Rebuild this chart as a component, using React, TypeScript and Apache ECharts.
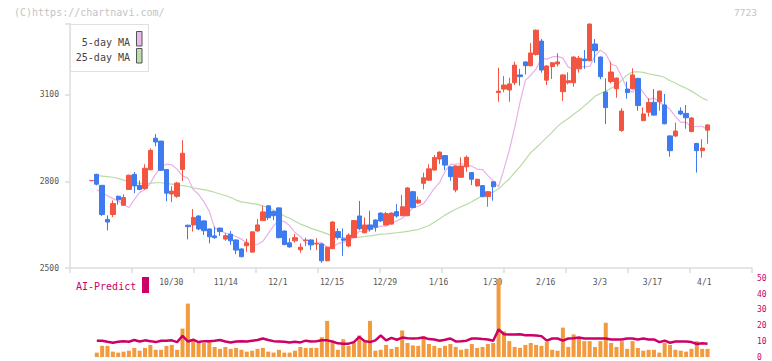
import React, { useEffect, useRef } from "react";
import * as echarts from "echarts";

// ---- Price data (one entry per trading day, index 0..115) ----
const opens = [
  2802, 2824, 2786, 2668, 2685, 2748, 2717, 2772, 2824, 2786,
  2775, 2840, 2949, 2939, 2841, 2756, 2748, 2841, 2648, 2649,
  2680, 2663, 2635, 2611, 2638, 2600, 2617, 2597, 2566, 2577,
  2555, 2628, 2664, 2715, 2696, 2708, 2628, 2587, 2594, 2563,
  2595, 2597, 2583, 2583, 2525, 2567, 2626, 2601, 2576, 2605,
  2680, 2622, 2649, 2666, 2690, 2649, 2652, 2695, 2681, 2681,
  2764, 2725, 2793, 2804, 2839, 2877, 2889, 2850, 2770, 2814,
  2850, 2830, 2784, 2785, 2747, 2798, 3107, 3119, 3116, 3141,
  3168, 3213, 3200, 3239, 3285, 3150, 3197, 3206, 3110, 3141,
  3141, 3189, 3223, 3217, 3275, 3230, 3109, 3145, 3120, 2976,
  3119, 3120, 3156, 3010, 3039, 3073, 3075, 3064, 2957, 2957,
  3043, 3035, 2972, 2931, 2906, 2977,
];
const closes = [
  2803, 2790, 2685, 2659, 2723, 2736, 2744, 2821, 2784, 2772,
  2845, 2907, 2936, 2838, 2759, 2766, 2794, 2897, 2643, 2675,
  2635, 2629, 2608, 2605, 2626, 2612, 2594, 2562, 2539, 2587,
  2625, 2649, 2694, 2674, 2681, 2605, 2581, 2573, 2605, 2572,
  2597, 2580, 2585, 2525, 2572, 2659, 2606, 2596, 2614, 2664,
  2636, 2649, 2634, 2641, 2663, 2688, 2690, 2680, 2712, 2777,
  2709, 2735, 2812, 2843, 2882, 2901, 2856, 2816, 2853, 2853,
  2883, 2807, 2807, 2747, 2764, 2781, 3112, 3133, 3137, 3202,
  3162, 3200, 3244, 3323, 3185, 3199, 3210, 3213, 3168, 3148,
  3230, 3226, 3217, 3344, 3252, 3162, 3055, 3178, 3157, 3043,
  3107, 3168, 3062, 3033, 3073, 3029, 3112, 2999, 2906, 2974,
  3033, 3020, 3019, 2906, 2915, 2995,
];
const lows = [
  2802, 2786, 2680, 2630, 2676, 2719, 2717, 2771, 2759, 2769,
  2771, 2838, 2921, 2836, 2731, 2728, 2743, 2801, 2599, 2626,
  2631, 2614, 2585, 2601, 2611, 2594, 2580, 2548, 2537, 2556,
  2553, 2626, 2664, 2666, 2666, 2603, 2579, 2570, 2588, 2553,
  2576, 2562, 2562, 2518, 2523, 2565, 2599, 2542, 2572, 2603,
  2631, 2620, 2626, 2626, 2659, 2647, 2650, 2674, 2679, 2679,
  2707, 2721, 2772, 2802, 2837, 2860, 2839, 2802, 2762, 2812,
  2833, 2787, 2782, 2745, 2712, 2733, 3075, 3108, 3075, 3133,
  3131, 3170, 3198, 3235, 3176, 3133, 3154, 3197, 3078, 3136,
  3127, 3176, 3189, 3215, 3210, 3153, 2998, 3139, 3089, 2971,
  3086, 3118, 3044, 3008, 3024, 3027, 3044, 2997, 2885, 2953,
  3029, 2982, 2970, 2830, 2882, 2930,
];
const highs = [
  2803, 2826, 2787, 2682, 2734, 2751, 2755, 2823, 2832, 2803,
  2859, 2914, 2963, 2940, 2842, 2783, 2798, 2942, 2650, 2704,
  2682, 2665, 2637, 2643, 2640, 2620, 2628, 2599, 2568, 2601,
  2627, 2670, 2715, 2717, 2698, 2710, 2630, 2603, 2618, 2585,
  2605, 2599, 2603, 2585, 2574, 2662, 2637, 2637, 2620, 2666,
  2732, 2675, 2698, 2668, 2692, 2694, 2692, 2721, 2753, 2780,
  2767, 2747, 2830, 2859, 2891, 2903, 2891, 2852, 2855, 2883,
  2889, 2832, 2809, 2787, 2766, 2800, 3193, 3164, 3158, 3214,
  3189, 3215, 3278, 3325, 3292, 3201, 3212, 3243, 3170, 3177,
  3232, 3234, 3254, 3346, 3292, 3232, 3156, 3214, 3159, 3053,
  3145, 3191, 3158, 3056, 3087, 3119, 3114, 3102, 2959, 3003,
  3056, 3064, 3022, 2933, 2946, 2997,
];

// 5-day MA values at the first four positions (before five closes exist)
const ma5Head = [2771, 2760, 2750, 2740];

// 25-day MA (position 0 has none)
const ma25 = [
  null, 2820, 2818, 2816, 2814, 2810, 2804, 2799, 2796, 2793,
  2793, 2793, 2795, 2795, 2792, 2790, 2788, 2785, 2782, 2777,
  2774, 2771, 2767, 2762, 2756, 2751, 2744, 2735, 2729, 2726,
  2723, 2720, 2715, 2710, 2700, 2692, 2680, 2672, 2662, 2652,
  2645, 2637, 2631, 2625, 2618, 2611, 2607, 2605, 2605, 2606,
  2607, 2609, 2611, 2614, 2617, 2618, 2620, 2622, 2624, 2627,
  2630, 2633, 2640, 2647, 2658, 2670, 2683, 2694, 2703, 2712,
  2720, 2729, 2740, 2750, 2757, 2763, 2774, 2792, 2808, 2830,
  2851, 2875, 2899, 2916, 2934, 2952, 2970, 2990, 3005, 3017,
  3032, 3045, 3061, 3077, 3094, 3104, 3112, 3122, 3131, 3150,
  3168, 3178, 3179, 3177, 3172, 3168, 3165, 3159, 3148, 3140,
  3130, 3122, 3112, 3100, 3088, 3080,
];

// Lower panel: volume bars and AI-Predict line (position 0 has none)
const volumes = [
  null, 2.8, 7.1, 7.1, 3.4, 2.8, 3.4, 4.0, 5.8, 4.0,
  5.8, 7.7, 4.6, 4.6, 7.1, 7.7, 4.6, 18.1, 34, 11.3,
  8.9, 8.9, 9.5, 6.4, 5.2, 6.4, 5.2, 5.8, 4.6, 3.4,
  4.0, 5.2, 5.8, 3.4, 2.8, 4.6, 2.8, 2.8, 4.0, 6.4,
  5.8, 5.8, 5.8, 12.6, 23, 9.5, 4.6, 11.3, 7.1, 8.9,
  13.8, 10.7, 23, 4.0, 4.6, 7.7, 5.2, 6.4, 16.9, 8.9,
  7.4, 7.1, 13.2, 8.3, 7.1, 5.8, 7.1, 8.3, 6.4, 4.6,
  5.2, 8.3, 5.8, 6.4, 8.3, 8.9, 55, 16.3, 10.1, 6.4,
  5.8, 7.7, 8.9, 7.7, 7.1, 9.5, 4.6, 4.0, 18.7, 6.4,
  14.4, 12.0, 10.1, 10.1, 6.4, 10.1, 21.8, 8.9, 6.4, 10.1,
  5.2, 10.1, 5.8, 4.0, 4.6, 4.6, 2.8, 8.9, 7.7, 4.6,
  4.0, 3.4, 5.2, 10.1, 5.2, 5.2,
];
const aiPredict = [
  null, 10.4, 10.4, 9.7, 9.1, 9.7, 10.1, 9.7, 10.8, 9.9,
  10.6, 10.1, 9.5, 10.4, 10.4, 10.6, 9.5, 13.5, 9.9, 11.0,
  9.5, 10.1, 10.1, 10.4, 10.8, 9.9, 9.3, 9.9, 10.1, 9.9,
  10.4, 10.8, 11.8, 10.8, 10.1, 9.9, 9.7, 9.3, 9.7, 9.3,
  10.4, 9.9, 10.1, 10.6, 10.6, 9.9, 8.7, 8.5, 8.5, 9.5,
  12.8, 10.1, 9.5, 10.6, 13.7, 10.6, 12.2, 11.0, 12.4, 12.0,
  11.8, 12.0, 12.4, 11.4, 11.2, 10.4, 11.0, 11.8, 9.9, 10.1,
  10.4, 11.8, 11.8, 11.4, 11.2, 10.4, 17.6, 14.5, 14.3, 14.3,
  14.5, 13.9, 13.9, 13.7, 13.3, 10.4, 11.8, 11.8, 10.4, 11.8,
  12.0, 12.4, 11.8, 11.8, 11.8, 11.8, 11.8, 11.2, 11.2, 11.2,
  11.8, 11.8, 11.2, 11.8, 11.2, 11.2, 9.5, 10.4, 9.1, 9.9,
  9.9, 9.9, 9.5, 8.3, 8.7, 8.5,
];

// Date labels and the slot positions where they are printed
const labelDates = ["10/30", "11/14", "12/1", "12/15", "12/29", "1/16", "1/30", "2/16", "3/3", "3/17", "4/1"];
const labelSlots = [14.9, 25.1, 34.8, 44.9, 54.8, 64.8, 74.9, 84.8, 94.9, 104.7, 114.4];

const priceTicks = [2500, 2800, 3100];
const volTicks = [0, 10, 20, 30, 40, 50];

const MONO = "'DejaVu Sans Mono', monospace";
const RED = "#F25541";
const BLUE = "#3D7BEE";
const PINK = "#E8B1E8";
const GREEN = "#B7DCA6";
const ORANGE = "#F19A3E";
const MAGENTA = "#CC0066";
const AXIS = "#DDDDDD";

const X_MIN = -4;
const X_MAX = 123.3;

export default function App() {
  const ref = useRef<HTMLDivElement>(null);

  useEffect(() => {
    document.body.style.margin = "0";
    if (!ref.current) return;
    const chart = echarts.init(ref.current, undefined, { renderer: "svg" });

    const candleData = opens.map((o, i) => [i, o, closes[i], lows[i], highs[i]]);
    const ma5Data: number[][] = [];
    for (let p = 1; p < closes.length; p++) {
      let v: number;
      if (p < 5) v = ma5Head[p - 1];
      else {
        let s = 0;
        for (let k = p - 5; k < p; k++) s += closes[k];
        v = s / 5;
      }
      ma5Data.push([p, v]);
    }
    const ma25Data = ma25.map((v, i) => [i, v]).filter((d) => d[1] !== null);
    const volData = volumes.map((v, i) => [i, v]).filter((d) => d[1] !== null);
    const aiData = aiPredict.map((v, i) => [i, v]).filter((d) => d[1] !== null);

    const priceMin = priceTicks[0];
    const priceMax = Math.max(...highs);
    const priceStep = priceTicks[1] - priceTicks[0];

    chart.setOption({
      animation: false,
      backgroundColor: "#ffffff",
      grid: [
        { left: 70, width: 682, top: 268 - (priceMax - priceMin) / 3.46, bottom: 361 - 268 },
        { left: 70, width: 682, top: 278.5, height: 80.5 },
      ],
      xAxis: [
        { type: "value", gridIndex: 0, min: X_MIN, max: X_MAX, show: false, axisLine: { onZero: false } },
        {
          type: "value",
          gridIndex: 0,
          min: 0,
          max: 11,
          interval: 1,
          position: "bottom",
          axisLine: { show: true, onZero: false, lineStyle: { color: AXIS, width: 1.5 } },
          axisTick: { show: true, length: 5, lineStyle: { color: AXIS, width: 1.5 } },
          axisLabel: { show: false },
          splitLine: { show: false },
        },
        {
          type: "value",
          gridIndex: 0,
          min: X_MIN,
          max: X_MAX,
          position: "bottom",
          axisLine: { show: false, onZero: false },
          axisTick: { show: false },
          splitLine: { show: false },
          axisLabel: {
            show: true,
            customValues: labelSlots,
            margin: 10,
            color: "#555555",
            fontFamily: MONO,
            fontSize: 8,
            formatter: (v: number) => {
              const k = labelSlots.findIndex((s) => Math.abs(s - v) < 1e-6);
              return k >= 0 ? labelDates[k] : "";
            },
          },
        },
        { type: "value", gridIndex: 1, min: X_MIN, max: X_MAX, show: false, axisLine: { onZero: false } },
      ],
      yAxis: [
        {
          type: "value",
          gridIndex: 0,
          min: priceMin,
          max: priceMax,
          interval: priceStep,
          axisLine: { show: true, onZero: false, lineStyle: { color: AXIS, width: 1.5 } },
          axisTick: { show: true, length: 5, lineStyle: { color: AXIS, width: 1.5 } },
          splitLine: { show: false },
          axisLabel: {
            margin: 11,
            color: "#555555",
            fontFamily: MONO,
            fontSize: 8,
            formatter: (v: number) => (priceTicks.indexOf(v) >= 0 ? String(v) : ""),
          },
        },
        {
          type: "value",
          gridIndex: 1,
          position: "right",
          min: volTicks[0],
          max: volTicks[volTicks.length - 1],
          interval: volTicks[1] - volTicks[0],
          axisLine: { show: false, onZero: false },
          axisTick: { show: false },
          splitLine: { show: false },
          axisLabel: { margin: 5, color: MAGENTA, fontFamily: MONO, fontSize: 8 },
        },
      ],
      series: [
        {
          type: "line",
          name: "5-day MA",
          xAxisIndex: 0,
          yAxisIndex: 0,
          data: ma5Data,
          showSymbol: false,
          symbol: "none",
          lineStyle: { color: PINK, width: 1.2 },
          z: 1,
        },
        {
          type: "line",
          name: "25-day MA",
          xAxisIndex: 0,
          yAxisIndex: 0,
          data: ma25Data,
          showSymbol: false,
          symbol: "none",
          lineStyle: { color: GREEN, width: 1.2 },
          z: 1,
        },
        {
          type: "candlestick",
          xAxisIndex: 0,
          yAxisIndex: 0,
          data: candleData,
          encode: { x: 0, y: [1, 2, 3, 4] },
          barWidth: 4.8,
          itemStyle: {
            color: RED,
            color0: BLUE,
            borderColor: RED,
            borderColor0: BLUE,
            borderWidth: 1,
          },
          z: 3,
        },
        {
          type: "bar",
          xAxisIndex: 3,
          yAxisIndex: 1,
          data: volData,
          barWidth: 4,
          itemStyle: { color: ORANGE },
          z: 2,
        },
        {
          type: "line",
          xAxisIndex: 3,
          yAxisIndex: 1,
          data: aiData,
          showSymbol: false,
          symbol: "none",
          lineStyle: { color: MAGENTA, width: 2.5 },
          z: 3,
        },
      ],
      graphic: [
        {
          type: "text",
          x: 14,
          y: 12,
          style: {
            text: "(C)https://chartnavi.com/",
            font: `10px ${MONO}`,
            fill: "#C4C4C4",
            align: "left",
            verticalAlign: "middle",
          },
        },
        {
          type: "text",
          x: 757,
          y: 12,
          style: {
            text: "7723",
            font: `9.5px ${MONO}`,
            fill: "#C4C4C4",
            align: "right",
            verticalAlign: "middle",
          },
        },
        {
          type: "rect",
          shape: { x: 70.5, y: 24.5, width: 78, height: 47 },
          style: { fill: "#FFFFFF", stroke: "#E0E0E0", lineWidth: 1 },
          z: 100,
        },
        {
          type: "text",
          x: 130,
          y: 42,
          style: { text: "5-day MA", font: `10px ${MONO}`, fill: "#444444", align: "right", verticalAlign: "middle" },
          z: 101,
        },
        {
          type: "text",
          x: 130,
          y: 57,
          style: { text: "25-day MA", font: `10px ${MONO}`, fill: "#444444", align: "right", verticalAlign: "middle" },
          z: 101,
        },
        {
          type: "rect",
          shape: { x: 136.5, y: 31.5, width: 5.5, height: 14.5 },
          style: { fill: "#EBB8EB", stroke: "#555555", lineWidth: 1 },
          z: 101,
        },
        {
          type: "rect",
          shape: { x: 136.5, y: 48.5, width: 5.5, height: 14.5 },
          style: { fill: "#BCDDB0", stroke: "#555555", lineWidth: 1 },
          z: 101,
        },
        {
          type: "text",
          x: 76,
          y: 286,
          style: { text: "AI-Predict", font: `10px ${MONO}`, fill: MAGENTA, align: "left", verticalAlign: "middle" },
        },
        {
          type: "rect",
          shape: { x: 142, y: 277, width: 7, height: 16 },
          style: { fill: MAGENTA },
        },
      ],
    });

    return () => chart.dispose();
  }, []);

  return <div ref={ref} style={{ width: 772, height: 361 }} />;
}
